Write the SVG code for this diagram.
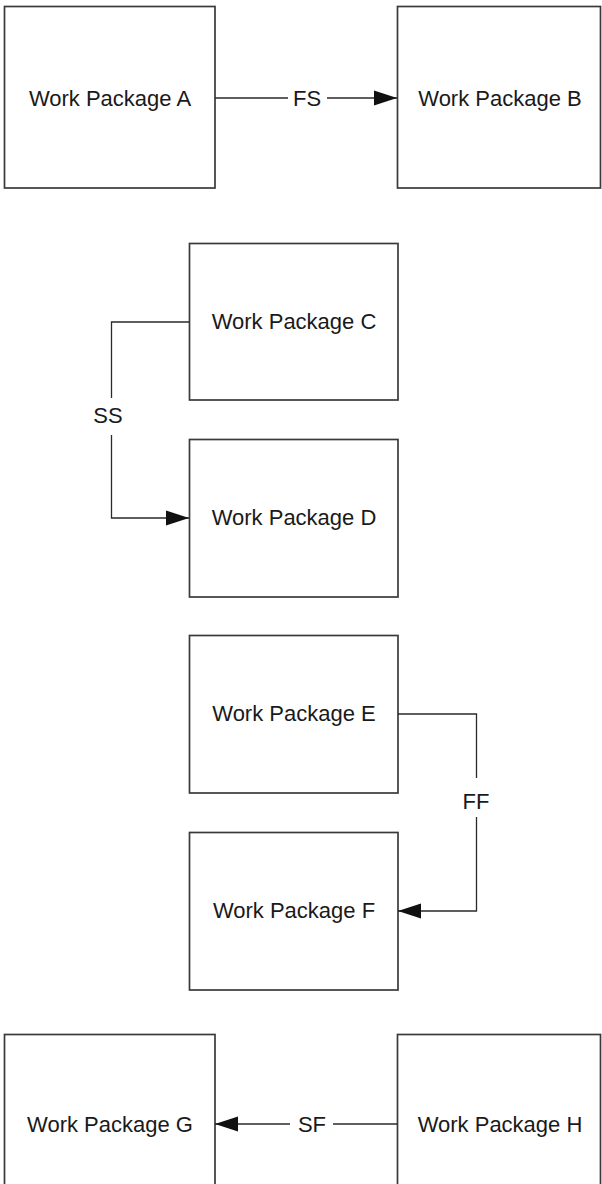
<svg xmlns="http://www.w3.org/2000/svg" width="602" height="1184" viewBox="0 0 602 1184">
<style>
.box{fill:#fff;stroke:#3a3a3a;stroke-width:1.7}
.lbl{font-family:"Liberation Sans",Arial,sans-serif;font-size:22px;fill:#1a1a1a;text-anchor:middle}
.ln{fill:none;stroke:#2a2a2a;stroke-width:1.3}
.arr{fill:none;stroke:#2a2a2a;stroke-width:1.3;marker-end:url(#ah)}
</style>
<defs>
<marker id="ah" markerUnits="userSpaceOnUse" markerWidth="24" markerHeight="16" refX="23" refY="8" orient="auto">
<path d="M0,0.5 L23,8 L0,15.5 Z" fill="#111"/>
</marker>
</defs>
<rect width="602" height="1184" fill="#fff"/>
<g id="nodeA"><rect class="box" x="4.5" y="6.5" width="210.5" height="181.5"/><text class="lbl" x="110" y="106">Work Package A</text></g>
<g id="nodeB"><rect class="box" x="397.5" y="6.5" width="203" height="181.5"/><text class="lbl" x="500" y="106">Work Package B</text></g>
<g id="nodeC"><rect class="box" x="189.5" y="243.5" width="208.5" height="156.5"/><text class="lbl" x="294" y="329">Work Package C</text></g>
<g id="nodeD"><rect class="box" x="189.5" y="439.5" width="208.5" height="157.5"/><text class="lbl" x="294" y="525">Work Package D</text></g>
<g id="nodeE"><rect class="box" x="189.5" y="635.5" width="208.5" height="157.5"/><text class="lbl" x="294" y="721">Work Package E</text></g>
<g id="nodeF"><rect class="box" x="189.5" y="832.5" width="208.5" height="157.5"/><text class="lbl" x="294" y="918">Work Package F</text></g>
<g id="nodeG"><rect class="box" x="4.5" y="1034.5" width="210.5" height="160"/><text class="lbl" x="110" y="1132">Work Package G</text></g>
<g id="nodeH"><rect class="box" x="397.5" y="1034.5" width="203" height="160"/><text class="lbl" x="500" y="1132">Work Package H</text></g>
<g id="connectors">
<path class="ln" d="M215,98 H288"/>
<path class="arr" d="M327,98 H397"/>
<text class="lbl" x="307" y="106">FS</text>
<path class="ln" d="M189,322 H111.5 V398"/>
<path class="arr" d="M111.5,435 V518 H189"/>
<text class="lbl" x="108" y="423">SS</text>
<path class="ln" d="M398,714 H476.5 V778"/>
<path class="arr" d="M476.5,817 V911 H398"/>
<text class="lbl" x="476" y="809">FF</text>
<path class="ln" d="M397,1124 H333"/>
<path class="arr" d="M290,1124 H215"/>
<text class="lbl" x="312" y="1132">SF</text>
</g>
</svg>
